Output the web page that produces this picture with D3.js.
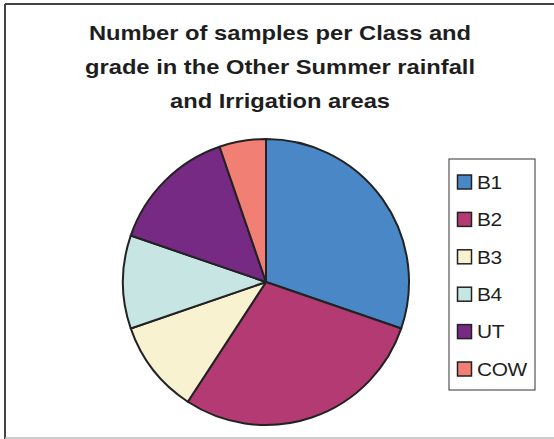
<!DOCTYPE html>
<html>
<head>
<meta charset="utf-8">
<script src="https://cdn.jsdelivr.net/npm/d3@7"></script>
<style>
  html, body { margin: 0; padding: 0; background: #fff; }
  svg { display: block; }
</style>
</head>
<body>
<svg id="chart" width="554" height="439"></svg>
<script>
// Sample counts per class and grade
const categories = ["B1", "B2", "B3", "B4", "UT", "COW"];
const counts = [23, 22, 8, 8, 11, 4];
const colors = ["#4a87c6", "#b33a73", "#f8f2d0", "#c6e5e3", "#772a84", "#f17f74"];
const titleLines = [
  "Number of samples per Class and",
  "grade in the Other Summer rainfall",
  "and Irrigation areas"
];

const svg = d3.select("#chart");
const font = "Arial, 'Liberation Sans', Helvetica, sans-serif";
const stretch = 1.13; // wide sans glyphs

// Chart frame
svg.append("line").attr("x1", 5).attr("y1", 4).attr("x2", 554).attr("y2", 4)
  .attr("stroke", "#444").attr("stroke-width", 2);
svg.append("line").attr("x1", 5).attr("y1", 4).attr("x2", 5).attr("y2", 439)
  .attr("stroke", "#444").attr("stroke-width", 2);
svg.append("line").attr("x1", 5).attr("y1", 438).attr("x2", 554).attr("y2", 438)
  .attr("stroke", "#bbb").attr("stroke-width", 1.5);

// Title
svg.append("g").selectAll("text").data(titleLines).join("text")
  .attr("transform", (d, i) => `translate(280,${39.5 + i * 34.3}) scale(${stretch},1)`)
  .attr("text-anchor", "middle")
  .attr("font-family", font)
  .attr("font-weight", "bold")
  .attr("font-size", 21)
  .attr("fill", "#1e1e1e")
  .text(d => d);

// Pie
const data = categories.map((c, i) => ({ name: c, value: counts[i] }));
const pie = d3.pie().value(d => d.value).sort(null);
const arc = d3.arc().innerRadius(0).outerRadius(143);
const color = d3.scaleOrdinal().domain(categories).range(colors);

svg.append("g")
  .attr("transform", "translate(266,282)")
  .selectAll("path").data(pie(data)).join("path")
  .attr("d", arc)
  .attr("fill", d => color(d.data.name))
  .attr("stroke", "#222")
  .attr("stroke-width", 2)
  .attr("stroke-linejoin", "round");

// Legend
const legend = svg.append("g");
legend.append("rect")
  .attr("x", 449).attr("y", 159).attr("width", 86).attr("height", 231)
  .attr("fill", "#fff").attr("stroke", "#333").attr("stroke-width", 1);

const rowY = d3.scalePoint().domain(categories).range([182, 369]);
const rows = legend.selectAll("g.row").data(data).join("g").attr("class", "row")
  .attr("transform", d => `translate(0,${rowY(d.name)})`);
rows.append("rect")
  .attr("x", 457.5).attr("y", -7).attr("width", 14).attr("height", 14)
  .attr("fill", d => color(d.name))
  .attr("stroke", "#222").attr("stroke-width", 1.5);
rows.append("text")
  .attr("transform", `translate(477,6.8) scale(${stretch},1)`)
  .attr("font-family", font)
  .attr("font-size", 18.5)
  .attr("fill", "#1e1e1e")
  .attr("letter-spacing", -0.4)
  .text(d => d.name);
</script>
</body>
</html>
